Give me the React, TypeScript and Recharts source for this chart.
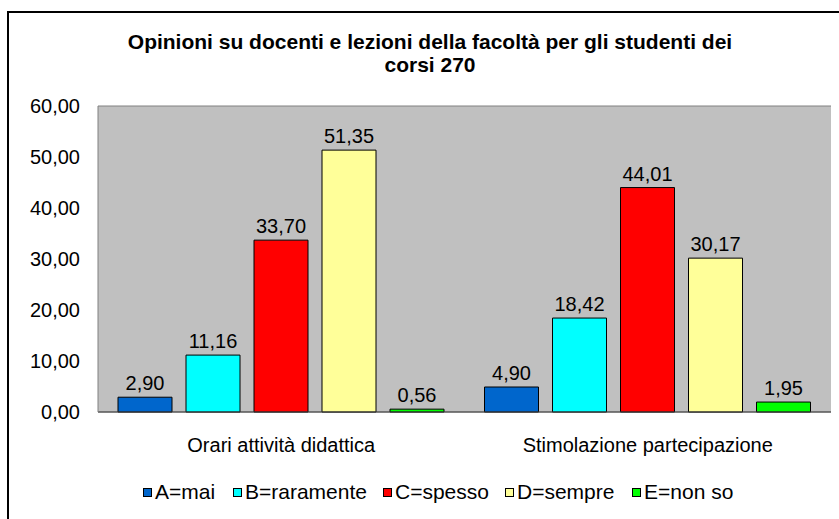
import React from 'react';
import { BarChart, Bar, XAxis, YAxis, CartesianGrid, LabelList } from 'recharts';

const categories = ['Orari attività didattica', 'Stimolazione partecipazione'];
const seriesNames = ['A=mai', 'B=raramente', 'C=spesso', 'D=sempre', 'E=non so'];
const seriesA = [2.9, 4.9];
const seriesB = [11.16, 18.42];
const seriesC = [33.7, 44.01];
const seriesD = [51.35, 30.17];
const seriesE = [0.56, 1.95];
const yTicks = [0, 10, 20, 30, 40, 50, 60];
const colors = ['#0066CC', '#00FFFF', '#FF0000', '#FFFF99', '#00FF00'];
const keys = ['A', 'B', 'C', 'D', 'E'];
const allSeries = [seriesA, seriesB, seriesC, seriesD, seriesE];
const legendX = [143, 233, 383, 505, 632];

const data = categories.map((c, i) => {
  const row: any = { name: c };
  keys.forEach((k, j) => (row[k] = allSeries[j][i]));
  return row;
});

const fmt = (v: any) => Number(v).toFixed(2).replace('.', ',');
const FONT = '"Liberation Sans", Arial, sans-serif';

export default function App() {
  return (
    <div style={{ position: 'absolute', left: 0, top: 0, width: 839, height: 519, overflow: 'hidden', background: '#fff' }}>
      <div style={{ position: 'absolute', left: 7, top: 11, width: 900, height: 600, border: '2px solid #000' }} />
      <div style={{ position: 'absolute', left: 0, top: 30, width: 860, textAlign: 'center', fontFamily: FONT, fontWeight: 'bold', fontSize: 21, lineHeight: '23px', color: '#000' }}>
        Opinioni su docenti e lezioni della facoltà per gli studenti dei
        <br />
        corsi 270
      </div>
      <div style={{ position: 'absolute', left: 0, top: 0 }}>
        <BarChart
          width={839}
          height={519}
          data={data}
          margin={{ top: 106, right: 8, bottom: 77, left: 0 }}
          barCategoryGap={20}
          barGap={14}
        >
          <CartesianGrid horizontal vertical={false} fill="#C0C0C0" stroke="#808080" fillOpacity={1} />
          <XAxis
            dataKey="name"
            tickLine={false}
            axisLine={{ stroke: '#404040' }}
            tick={{ fill: '#000', fontSize: 20, fontFamily: FONT }}
            tickMargin={20}
          />
          <YAxis
            yAxisId="left"
            width={98}
            domain={[0, 60]}
            ticks={yTicks}
            tickFormatter={fmt}
            tickLine={false}
            axisLine={{ stroke: '#808080' }}
            tick={{ fill: '#000', fontSize: 20, fontFamily: FONT }}
            tickMargin={12}
          />
          <YAxis yAxisId="right" orientation="right" width={0} domain={[0, 60]} ticks={yTicks} tick={false} tickLine={false} axisLine={{ stroke: '#808080' }} />
          {keys.map((k, j) => (
            <Bar key={k} yAxisId="left" dataKey={k} name={seriesNames[j]} fill={colors[j]} stroke="#000" strokeWidth={1} isAnimationActive={false}>
              <LabelList dataKey={k} position="top" offset={7} formatter={fmt} style={{ fill: '#000', fontSize: 20, fontFamily: FONT }} />
            </Bar>
          ))}
        </BarChart>
      </div>
      {seriesNames.map((n, i) => (
        <div key={n} style={{ position: 'absolute', left: legendX[i], top: 480, display: 'flex', alignItems: 'center', fontFamily: FONT, fontSize: 21, lineHeight: '24px', color: '#000', whiteSpace: 'nowrap' }}>
          <span style={{ display: 'inline-block', width: 7, height: 7, background: colors[i], border: '1px solid #000', marginRight: 3 }} />
          <span>{n}</span>
        </div>
      ))}
    </div>
  );
}
